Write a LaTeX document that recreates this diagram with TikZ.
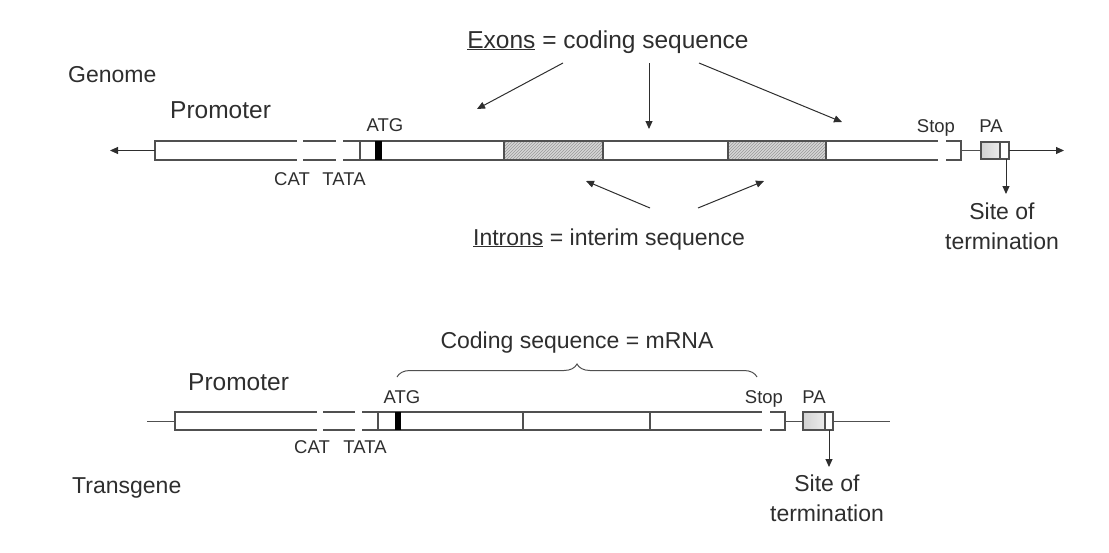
\documentclass[tikz,border=0pt]{standalone}
\usepackage{fontspec}
\setmainfont{Liberation Sans}
\usetikzlibrary{arrows.meta,patterns,decorations.pathreplacing}
\definecolor{ink}{HTML}{2E2E2E}
\definecolor{barline}{HTML}{505050}
\definecolor{hatchbg}{HTML}{D6D6D6}
\begin{document}
\begin{tikzpicture}[x=1pt,y=-1pt,
  bigtxt/.style={text=ink,inner sep=0pt,font=\fontsize{23}{27}\selectfont},
  hugetxt/.style={text=ink,inner sep=0pt,font=\fontsize{24.5}{28}\selectfont},
  smalltxt/.style={text=ink,inner sep=0pt,font=\fontsize{18.5}{21}\selectfont},
  sitetxt/.style={text=ink,inner sep=0pt,align=center,font=\fontsize{23}{30}\selectfont},
  barout/.style={draw=barline,line width=1.5pt},
  divline/.style={draw=barline,line width=1.2pt},
  thin/.style={draw=barline,line width=1pt},
  gapfill/.style={fill=white},
  hatch/.style={pattern=north east lines,pattern color=gray!80},
  arr/.style={draw=ink,line width=1pt,-{Triangle[length=8pt,width=7pt]}},
]
\useasboundingbox (0,0) rectangle (1109,552);

% ================= GENOME =================
\node[bigtxt,anchor=base west] (genome) at (68,82) {Genome};
\node[hugetxt,anchor=base west] (prom1) at (170,118) {Promoter};
\node[hugetxt,anchor=base] (exons) at (608,48) {\underline{Exons} = coding sequence};
\node[bigtxt,anchor=base] (introns) at (609,245) {\underline{Introns} = interim sequence};

% bar
\fill[white] (155,141) rectangle (961,160);
\fill[hatchbg] (504,141) rectangle (603,160);
\fill[hatch] (504,141) rectangle (603,160);
\fill[hatchbg] (728,141) rectangle (826,160);
\fill[hatch] (728,141) rectangle (826,160);
\draw[divline] (504,141) -- (504,160) (603,141) -- (603,160) (728,141) -- (728,160) (826,141) -- (826,160);
\draw[divline] (360,141) -- (360,160);
\draw[barout] (155,141) rectangle (961,160);
\fill[gapfill] (297,137) rectangle (303,164);
\fill[gapfill] (336,137) rectangle (343,164);
\fill[gapfill] (938,137) rectangle (946,164);
\fill[black] (375,141) rectangle (382,160);

\coordinate (gL) at (155,150.5);
\coordinate (gLend) at (110,150.5);
\draw[arr] (gL) -- (gLend);

% PA
\coordinate (gR) at (961,150.5);
\coordinate (paL) at (981,150.5);
\draw[thin] (gR) -- (paL);
\draw[barout,fill=white] (981,142) rectangle (1009,159);
\draw[barout,left color=gray!35,right color=gray!15] (981,142) rectangle (1000,159);
\coordinate (paR) at (1009,150.5);
\coordinate (gRend) at (1064,150.5);
\draw[arr] (paR) -- (gRend);
\coordinate (term1a) at (1006,159);
\coordinate (term1b) at (1006,194);
\draw[arr] (term1a) -- (term1b);

\node[smalltxt,anchor=base] (atg1) at (385,131) {ATG};
\node[smalltxt,anchor=base] (stop1) at (936,132) {Stop};
\node[smalltxt,anchor=base] (pa1) at (991,132) {PA};
\node[smalltxt,anchor=base] (cat1) at (292,185) {CAT};
\node[smalltxt,anchor=base] (tata1) at (344,185) {TATA};
\node[sitetxt,anchor=north] (site1) at (1002,203) {Site of\\termination};

% exon arrows
\coordinate (e1s) at (563,63); \coordinate (e1t) at (477,109);
\coordinate (e2s) at (649,63); \coordinate (e2t) at (649,129);
\coordinate (e3s) at (699,63); \coordinate (e3t) at (842,122);
\draw[arr] (e1s) -- (e1t);
\draw[arr] (e2s) -- (e2t);
\draw[arr] (e3s) -- (e3t);
% intron arrows
\coordinate (i1s) at (650,208); \coordinate (i1t) at (586,181);
\coordinate (i2s) at (698,208); \coordinate (i2t) at (764,181);
\draw[arr] (i1s) -- (i1t);
\draw[arr] (i2s) -- (i2t);

% ================= TRANSGENE =================
\node[bigtxt,anchor=base west] (transgene) at (72,493) {Transgene};
\node[hugetxt,anchor=base west] (prom2) at (188,390) {Promoter};
\node[bigtxt,anchor=base] (coding) at (577,348) {Coding sequence = mRNA};

\fill[white] (175,412) rectangle (785,430);
\draw[divline] (378,412) -- (378,430) (523,412) -- (523,430) (650,412) -- (650,430);
\draw[barout] (175,412) rectangle (785,430);
\fill[gapfill] (317,408) rectangle (323,434);
\fill[gapfill] (355,408) rectangle (362,434);
\fill[gapfill] (762,408) rectangle (770,434);
\fill[black] (395,412) rectangle (401,430);

\coordinate (tL) at (175,421);
\coordinate (tLend) at (147,421);
\draw[thin] (tL) -- (tLend);
\coordinate (tR) at (785,421);
\coordinate (pa2L) at (803,421);
\draw[thin] (tR) -- (pa2L);
\draw[barout,fill=white] (803,412) rectangle (833,430);
\draw[barout,left color=gray!35,right color=gray!15] (803,412) rectangle (825,430);
\coordinate (pa2R) at (833,421);
\coordinate (tRend) at (890,421);
\draw[thin] (pa2R) -- (tRend);
\coordinate (term2a) at (829,430);
\coordinate (term2b) at (829,467);
\draw[arr] (term2a) -- (term2b);

\node[smalltxt,anchor=base] (atg2) at (402,403) {ATG};
\node[smalltxt,anchor=base] (stop2) at (764,403) {Stop};
\node[smalltxt,anchor=base] (pa2) at (814,403) {PA};
\node[smalltxt,anchor=base] (cat2) at (312,453) {CAT};
\node[smalltxt,anchor=base] (tata2) at (365,453) {TATA};
\node[sitetxt,anchor=north] (site2) at (827,475) {Site of\\termination};

\coordinate (brL) at (397,377);
\coordinate (brR) at (757,377);
\draw[draw=barline,line width=1pt,decorate,decoration={brace,amplitude=13pt,aspect=0.5}] (brL) -- (brR);
\end{tikzpicture}
\end{document}
